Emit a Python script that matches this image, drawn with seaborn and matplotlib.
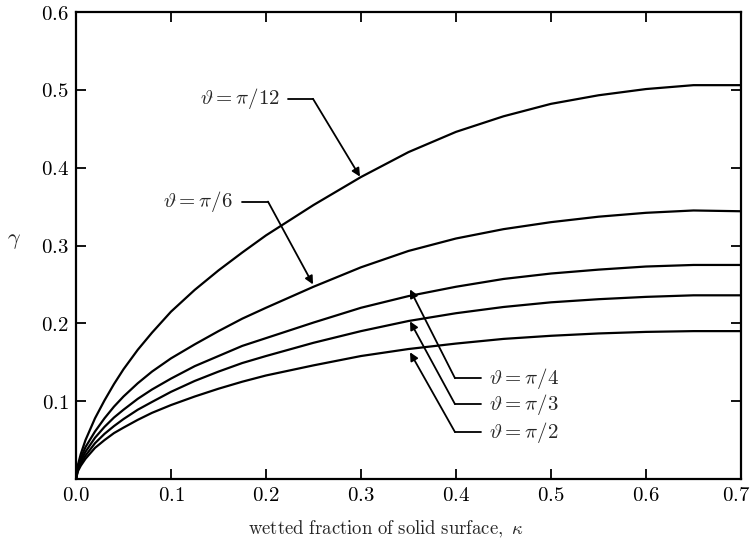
import numpy as np
import pandas as pd
import matplotlib
matplotlib.use("Agg")
import matplotlib.pyplot as plt
import matplotlib.transforms as mtransforms
import seaborn as sns
from matplotlib.ticker import FuncFormatter

# wetted fraction of solid surface (kappa)
kappa = [0.0, 0.002, 0.005, 0.01, 0.02, 0.03, 0.04, 0.05, 0.065, 0.08, 0.1,
         0.125, 0.15, 0.175, 0.2, 0.25, 0.3, 0.35, 0.4, 0.45, 0.5, 0.55,
         0.6, 0.65, 0.7]

gamma_pi12 = [0.0, 0.018, 0.032, 0.050, 0.078, 0.101, 0.122, 0.141, 0.166, 0.188,
              0.215, 0.243, 0.268, 0.291, 0.313, 0.352, 0.388, 0.420, 0.446,
              0.466, 0.482, 0.493, 0.501, 0.506, 0.506]
gamma_pi6 = [0.0, 0.016, 0.027, 0.041, 0.061, 0.078, 0.093, 0.106, 0.123, 0.138,
             0.155, 0.173, 0.190, 0.206, 0.220, 0.247, 0.272, 0.293, 0.309,
             0.321, 0.330, 0.337, 0.342, 0.345, 0.344]
gamma_pi4 = [0.0, 0.014, 0.023, 0.035, 0.053, 0.067, 0.079, 0.089, 0.103, 0.115,
             0.129, 0.145, 0.158, 0.171, 0.181, 0.201, 0.220, 0.235, 0.247,
             0.257, 0.264, 0.269, 0.273, 0.275, 0.275]
gamma_pi3 = [0.0, 0.012, 0.020, 0.030, 0.046, 0.058, 0.068, 0.077, 0.089, 0.099,
             0.112, 0.126, 0.138, 0.149, 0.158, 0.175, 0.190, 0.203, 0.213,
             0.221, 0.227, 0.231, 0.234, 0.236, 0.236]
gamma_pi2 = [0.0, 0.010, 0.017, 0.026, 0.040, 0.050, 0.059, 0.066, 0.076, 0.085,
             0.095, 0.106, 0.116, 0.125, 0.133, 0.146, 0.158, 0.167, 0.174,
             0.180, 0.184, 0.187, 0.189, 0.190, 0.190]

labels = [r"$\vartheta = \pi/12$", r"$\vartheta = \pi/6$", r"$\vartheta = \pi/4$",
          r"$\vartheta = \pi/3$", r"$\vartheta = \pi/2$"]
series = [gamma_pi12, gamma_pi6, gamma_pi4, gamma_pi3, gamma_pi2]

x_ticks = [0.0, 0.1, 0.2, 0.3, 0.4, 0.5, 0.6, 0.7]
y_ticks = [0.1, 0.2, 0.3, 0.4, 0.5, 0.6]

df = pd.concat([pd.DataFrame({"kappa": kappa, "gamma": g, "angle": lab})
                for g, lab in zip(series, labels)], ignore_index=True)

sns.set_style("ticks")
plt.rcParams["mathtext.fontset"] = "cm"
plt.rcParams["font.family"] = ["serif"]
plt.rcParams["font.serif"] = ["DejaVu Serif"]

fig = plt.figure(figsize=(7.53, 5.46), dpi=100)
ax = fig.add_axes([76/753, 1-479/546, 665/753, 467/546])

sns.lineplot(data=df, x="kappa", y="gamma", hue="angle", palette=["black"]*5,
             legend=False, ax=ax, linewidth=1.6, sort=False)

ax.set_xlim(0, 0.7)
ax.set_ylim(0, 0.6)
ax.set_xticks(x_ticks)
ax.set_yticks(y_ticks)
fmt = FuncFormatter(lambda v, p: r"$\mathbf{%.1f}$" % v)
ax.xaxis.set_major_formatter(fmt)
ax.yaxis.set_major_formatter(fmt)
ax.tick_params(direction="in", length=7, width=1.3, labelsize=15,
               top=True, right=True, pad=5, colors="black")
for s in ax.spines.values():
    s.set_linewidth(1.6)
    s.set_color("black")

# keep the last x tick label inside the figure
last = ax.get_xticklabels()[-1]
last.set_transform(last.get_transform() +
                   mtransforms.ScaledTranslation(-5/100, 0, fig.dpi_scale_trans))

ax.set_xlabel(r"$\mathrm{wetted\ fraction\ of\ solid\ surface,}\ \kappa$", fontsize=13.5)
ax.xaxis.set_label_coords((386-76)/665, (479-529)/467)
ax.set_ylabel(r"$\gamma$", fontsize=16, rotation=0)
ax.yaxis.set_label_coords((14-76)/665, (479-240)/467)
ax.xaxis.label.set_va("center")
ax.yaxis.label.set_va("center")

def px(x):
    return (x - 76) / 950.0

def py(y):
    return (480 - y) / 780.0

arrow = dict(arrowstyle="-|>", color="black", lw=1.3, mutation_scale=12,
             shrinkA=0, shrinkB=0)

# upper labels: text, horizontal stub, diagonal arrow
upper = [(labels[0], 280, 99, 288, 313, 360, 177),
         (labels[1], 233, 202, 242, 268, 313, 285)]
for lab, tx, ty, l0, l1, ax_, ay_ in upper:
    ax.text(px(tx), py(ty), lab, ha="right", va="center", fontsize=15)
    ax.plot([px(l0), px(l1)], [py(ty), py(ty)], color="black", lw=1.3)
    ax.annotate("", xy=(px(ax_), py(ay_)), xytext=(px(l1), py(ty)), arrowprops=arrow)

lower = [(labels[2], 379, 290), (labels[3], 405, 322), (labels[4], 433, 353)]
for lab, ty, tipy in lower:
    ax.text(px(489), py(ty), lab, ha="left", va="center", fontsize=15)
    ax.plot([px(455), px(481)], [py(ty), py(ty)], color="black", lw=1.3)
    ax.annotate("", xy=(px(410), py(tipy)), xytext=(px(455), py(ty)), arrowprops=arrow)

fig.savefig("out.png", dpi=100)
